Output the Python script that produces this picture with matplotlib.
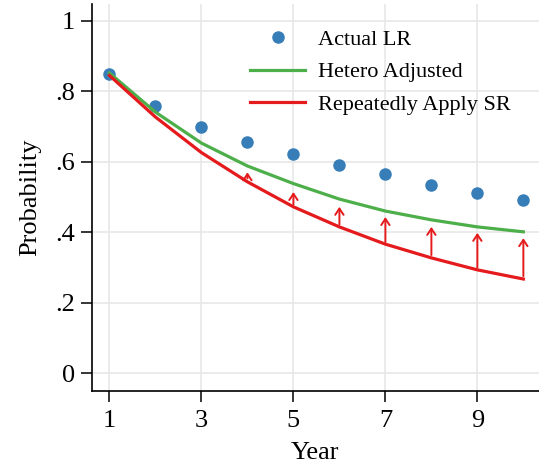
import matplotlib.pyplot as plt

plt.rcParams['font.family'] = ['Liberation Serif', 'DejaVu Serif']

years = [1, 2, 3, 4, 5, 6, 7, 8, 9, 10]
actual_lr = [0.849, 0.758, 0.699, 0.656, 0.622, 0.591, 0.565, 0.534, 0.511, 0.491]
hetero_adj = [0.852, 0.741, 0.653, 0.588, 0.538, 0.494, 0.460, 0.435, 0.415, 0.401]
repeat_sr = [0.845, 0.727, 0.626, 0.543, 0.472, 0.415, 0.366, 0.327, 0.293, 0.267]

# arrows showing the gap closed by the heterogeneity adjustment
arrow_years = [4, 5, 6, 7, 8, 9, 10]
arrow_lo = [0.553, 0.478, 0.422, 0.372, 0.335, 0.299, 0.275]
arrow_hi = [0.570, 0.514, 0.472, 0.443, 0.415, 0.398, 0.383]

blue = '#377eb8'
green = '#4daf4a'
red = '#e41a1c'

fig = plt.figure(figsize=(5.39, 4.65), dpi=100)
ax = fig.add_axes([92/539, 1 - 391/465, 1 - 92/539, 387/465])

ax.plot(years, actual_lr, 'o', color=blue, markersize=8, label='Actual LR', zorder=2)
ax.plot(years, hetero_adj, color=green, lw=2.3, label='Hetero Adjusted', zorder=3)
ax.plot(years, repeat_sr, color=red, lw=2.3, label='Repeatedly Apply SR', zorder=3)

for x, lo, hi in zip(arrow_years, arrow_lo, arrow_hi):
    ax.annotate('', xy=(x, hi), xytext=(x, lo),
                arrowprops=dict(arrowstyle='->,head_length=0.45,head_width=0.3',
                                color=red, lw=1.4, shrinkA=0, shrinkB=0),
                zorder=4)

ax.set_xlim(0.62, 10.34)
ax.set_ylim(-0.051, 1.048)
ax.set_xticks([1, 3, 5, 7, 9])
ax.set_yticks([0, 0.2, 0.4, 0.6, 0.8, 1])
ax.set_yticklabels(['0', '.2', '.4', '.6', '.8', '1'])
ax.tick_params(labelsize=19, length=8, width=1.1, color='black', pad=4)
ax.tick_params(axis='x', pad=6)
ax.grid(True, color='#e6e6e6', lw=1.1, zorder=0)
ax.set_axisbelow(True)
for s in ['top', 'right']:
    ax.spines[s].set_visible(False)
for s in ['left', 'bottom']:
    ax.spines[s].set_linewidth(1.2)

ax.set_xlabel('Year', fontsize=19, labelpad=7)
ax.set_ylabel('Probability', fontsize=19, labelpad=10)

ax.legend(loc='upper left', bbox_to_anchor=(0.353, 0.935), frameon=False,
          fontsize=16, handlelength=2.5, handletextpad=0.55, borderpad=0,
          borderaxespad=0, labelspacing=0.55)

fig.savefig('out.png', dpi=100)
